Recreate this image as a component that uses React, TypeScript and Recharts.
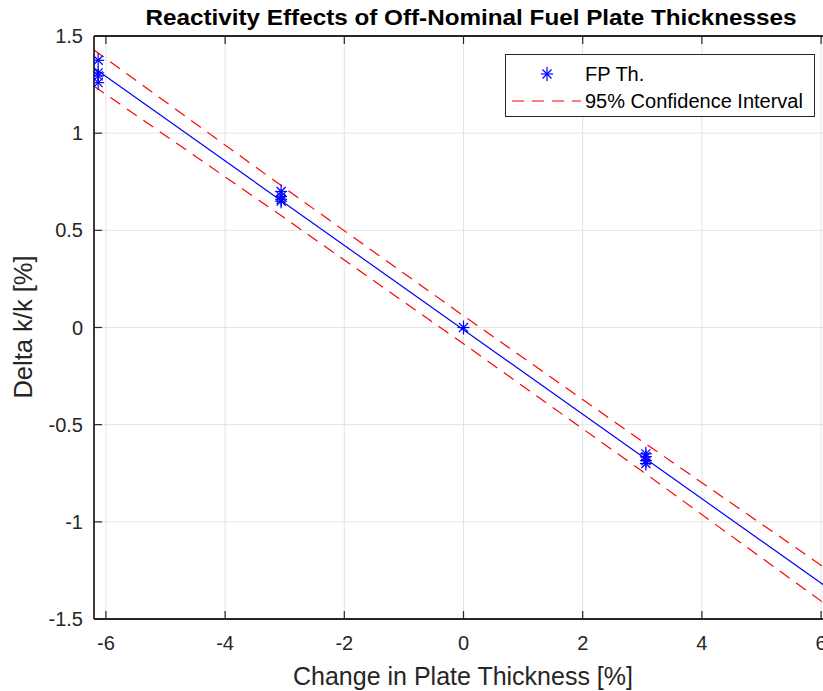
import React from 'react';
import { ComposedChart, Line, Scatter, XAxis, YAxis, CartesianGrid } from 'recharts';

const xTicks = [-6, -4, -2, 0, 2, 4, 6];
const yTicks = [-1.5, -1, -0.5, 0, 0.5, 1, 1.5];

const pointX = [-6.13, -6.13, -6.13, -6.13, -3.06, -3.06, -3.06, -3.06, 0, 3.06, 3.06, 3.06, 3.06, 6.13, 6.13, 6.13];
const pointY = [1.375, 1.31, 1.295, 1.26, 0.7, 0.675, 0.66, 0.65, 0, -0.65, -0.665, -0.685, -0.7, -1.33, -1.36, -1.385];

const fitX = [-6.2, 6.2];
const fitY = [1.335, -1.359];

const ciX = [-6.2, -3, 0, 3, 6.2];
const ciUpper = [1.428, 0.717, 0.06, -0.586, -1.266];
const ciLower = [1.242, 0.563, -0.084, -0.74, -1.452];

const TITLE = 'Reactivity Effects of Off-Nominal Fuel Plate Thicknesses';
const XLABEL = 'Change in Plate Thickness [%]';
const YLABEL = 'Delta k/k [%]';
const SERIES_POINTS = 'FP Th.';
const SERIES_CI = '95% Confidence Interval';

const pointData = pointX.map((x, i) => ({ x, y: pointY[i] }));
const fitData = fitX.map((x, i) => ({ x, y: fitY[i] }));
const upperData = ciX.map((x, i) => ({ x, y: ciUpper[i] }));
const lowerData = ciX.map((x, i) => ({ x, y: ciLower[i] }));

const FONT = '"Liberation Sans", Arial, Helvetica, sans-serif';
const INK = '#262626';

const Asterisk = (props: any) => {
  const { cx, cy } = props;
  if (cx == null || cy == null) return null;
  return (
    <g stroke="#0000ff" strokeWidth={1.2} fill="none">
      <line x1={cx - 6} y1={cy} x2={cx + 6} y2={cy} />
      <line x1={cx} y1={cy - 7} x2={cx} y2={cy + 7} />
      <line x1={cx - 4.5} y1={cy - 4.5} x2={cx + 4.5} y2={cy + 4.5} />
      <line x1={cx - 4.5} y1={cy + 4.5} x2={cx + 4.5} y2={cy - 4.5} />
    </g>
  );
};

const XTick = (props: any) => {
  const { x, y, payload } = props;
  return (
    <g>
      <line x1={x} y1={y} x2={x} y2={y - 8} stroke={INK} strokeWidth={1.2} />
      <text x={x} y={y + 31} textAnchor="middle" fontSize={20} fontFamily={FONT} fill={INK}>
        {String(payload.value)}
      </text>
    </g>
  );
};

const TopTick = (props: any) => {
  const { x, y } = props;
  return <line x1={x} y1={y} x2={x} y2={y + 8} stroke={INK} strokeWidth={1.2} />;
};

const YTick = (props: any) => {
  const { x, y, payload } = props;
  return (
    <g>
      <line x1={x} y1={y} x2={x + 8} y2={y} stroke={INK} strokeWidth={1.2} />
      <text x={x - 11} y={y + 7} textAnchor="end" fontSize={20} fontFamily={FONT} fill={INK}>
        {String(payload.value)}
      </text>
    </g>
  );
};

const TitleLabel = () => (
  <text x={471} y={25} textAnchor="middle" fontSize={22.5} fontWeight="bold" fontFamily={FONT} fill="#000"
    textLength={651} lengthAdjust="spacingAndGlyphs">
    {TITLE}
  </text>
);

const XLabel = () => (
  <text x={463} y={685} textAnchor="middle" fontSize={25} fontFamily={FONT} fill={INK}>
    {XLABEL}
  </text>
);

const YLabel = () => (
  <text x={32} y={327} textAnchor="middle" fontSize={25.5} fontFamily={FONT} fill={INK}
    transform="rotate(-90, 32, 327)">
    {YLABEL}
  </text>
);

const LegendBox = () => (
  <div style={{
    position: 'absolute', left: 505, top: 54, width: 308, height: 61,
    border: `1.5px solid ${INK}`, background: '#fff',
    fontFamily: FONT, fontSize: 20, color: '#000', boxSizing: 'content-box'
  }}>
    <svg width={80} height={61} style={{ position: 'absolute', left: 0, top: 0 }}>
      <Asterisk cx={41} cy={19} />
      <line x1={6} y1={46} x2={75} y2={46} stroke="#ff0000" strokeWidth={1.2} strokeDasharray="12 8" />
    </svg>
    <div style={{ position: 'absolute', left: 79, top: 7, lineHeight: '24px', whiteSpace: 'nowrap' }}>{SERIES_POINTS}</div>
    <div style={{ position: 'absolute', left: 79, top: 34, lineHeight: '24px', whiteSpace: 'nowrap' }}>{SERIES_CI}</div>
  </div>
);

export default function App() {
  return (
    <div style={{ position: 'absolute', left: 0, top: 0, width: 823, height: 691, overflow: 'hidden', background: '#fff' }}>
      <ComposedChart width={850} height={691} margin={{ top: 35, right: 17, bottom: 0, left: 0 }}>
        <CartesianGrid stroke="#e3e3e3" strokeWidth={1} />
        <XAxis
          xAxisId={0}
          type="number"
          dataKey="x"
          domain={[-6.2, 6.2]}
          ticks={xTicks}
          allowDataOverflow
          height={72}
          tickSize={0}
          tickMargin={0}
          tickLine={false}
          tick={<XTick />}
          axisLine={{ stroke: INK, strokeWidth: 1.8 }}
          label={<XLabel />}
        />
        <XAxis
          xAxisId="top"
          orientation="top"
          type="number"
          dataKey="x"
          domain={[-6.2, 6.2]}
          ticks={xTicks}
          allowDataOverflow
          height={1}
          tickSize={0}
          tickMargin={0}
          tickLine={false}
          tick={<TopTick />}
          axisLine={{ stroke: INK, strokeWidth: 1.8 }}
          label={<TitleLabel />}
        />
        <YAxis
          yAxisId={0}
          type="number"
          domain={[-1.5, 1.5]}
          ticks={yTicks}
          allowDataOverflow
          width={94}
          tickSize={0}
          tickMargin={0}
          tickLine={false}
          tick={<YTick />}
          axisLine={{ stroke: INK, strokeWidth: 1.8 }}
          label={<YLabel />}
        />
        <Line data={upperData} dataKey="y" stroke="#ff0000" strokeWidth={1.2} strokeDasharray="12 8" dot={false} activeDot={false} isAnimationActive={false} legendType="none" />
        <Line data={lowerData} dataKey="y" stroke="#ff0000" strokeWidth={1.2} strokeDasharray="12 8" dot={false} activeDot={false} isAnimationActive={false} legendType="none" />
        <Line data={fitData} dataKey="y" stroke="#0000ff" strokeWidth={1.2} dot={false} activeDot={false} isAnimationActive={false} legendType="none" />
        <Scatter data={pointData} dataKey="y" shape={<Asterisk />} isAnimationActive={false} legendType="none" />
      </ComposedChart>
      <LegendBox />
    </div>
  );
}
